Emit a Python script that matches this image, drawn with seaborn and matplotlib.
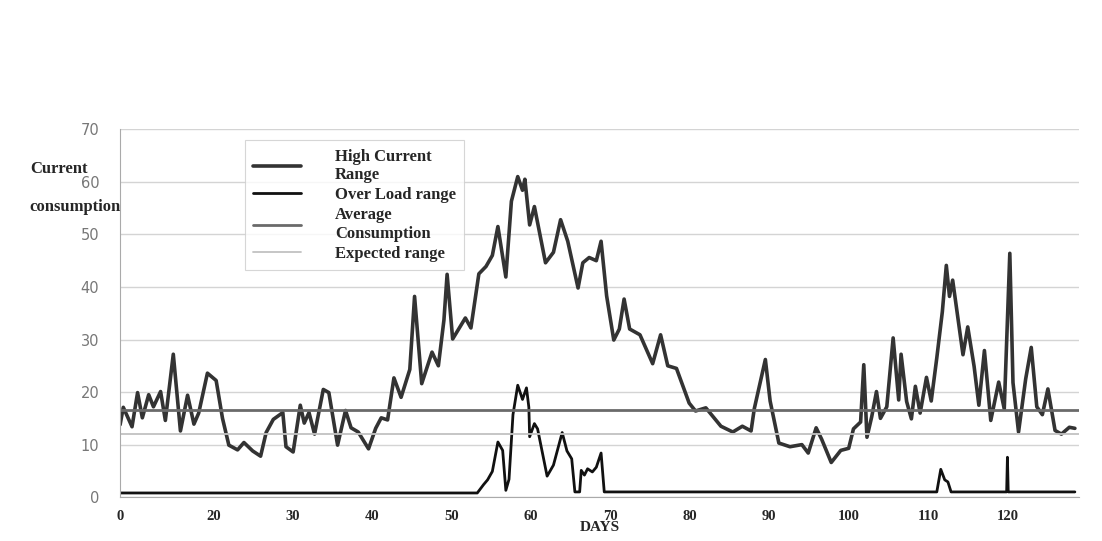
import pandas as pd
import seaborn as sns
import matplotlib.pyplot as plt

# values
days_main = [8.2, 8.6, 9.7, 10.4, 11.0, 11.8, 12.4, 13.3, 13.9, 14.9,
             15.8, 16.7, 17.5, 18.1, 19.2, 20.3, 21.1, 21.9, 23.0, 23.8,
             24.9, 25.9, 26.6, 27.5, 28.7, 29.1, 30.0, 30.9, 31.4, 32.0,
             32.7, 33.8, 34.5, 35.6, 36.6, 37.3, 38.2, 39.5, 40.4, 41.1,
             41.9, 42.7, 43.6, 44.7, 45.3, 46.2, 47.5, 48.3, 49.0, 49.4,
             50.1, 51.7, 52.4, 53.4, 54.3, 55.1, 55.8, 56.8, 57.5, 58.3,
             58.9, 59.2, 59.8, 60.4, 61.8, 62.8, 63.7, 64.6, 65.9, 66.5,
             67.3, 68.2, 68.8, 69.5, 70.4, 71.1, 71.7, 72.4, 73.7, 75.3,
             76.3, 77.2, 78.3, 79.9, 80.7, 82.0, 83.9, 85.4, 86.6, 87.7,
             88.1, 89.5, 90.1, 91.2, 92.6, 94.1, 94.9, 95.9, 96.6, 97.8,
             99.0, 100.0, 100.6, 101.5, 101.9, 102.3, 102.9, 103.5, 104.0, 104.8,
             105.6, 106.3, 106.6, 107.3, 107.9, 108.4, 109.0, 109.8, 110.4, 111.1,
             111.8, 112.3, 112.7, 113.1, 114.4, 115.0, 115.8, 116.4, 117.1, 117.9,
             118.9, 119.6, 120.3, 120.7, 121.4, 122.3, 123.0, 123.7, 124.4, 125.1,
             126.0, 126.8, 127.8, 128.5]
high_current = [13.8, 17.1, 13.4, 19.9, 15.1, 19.5, 17.2, 20.1, 14.6, 27.2,
                12.6, 19.4, 13.9, 16.0, 23.6, 22.2, 15.0, 9.9, 9.0, 10.4,
                8.8, 7.8, 12.3, 14.8, 16.1, 9.6, 8.6, 17.5, 14.1, 16.1,
                12.0, 20.5, 19.9, 9.9, 16.5, 13.2, 12.4, 9.2, 13.1, 15.1,
                14.7, 22.7, 19.0, 24.3, 38.2, 21.6, 27.6, 25.0, 33.7, 42.4,
                30.1, 34.1, 32.2, 42.5, 43.9, 46.0, 51.5, 41.9, 56.3, 61.0,
                58.4, 60.5, 51.8, 55.3, 44.6, 46.6, 52.8, 48.7, 39.8, 44.6,
                45.6, 45.0, 48.7, 38.3, 29.9, 32.0, 37.7, 32.0, 30.9, 25.4,
                30.9, 25.0, 24.5, 17.9, 16.4, 17.0, 13.5, 12.4, 13.5, 12.6,
                16.8, 26.2, 18.3, 10.3, 9.6, 10.0, 8.4, 13.2, 11.0, 6.6,
                8.9, 9.3, 13.0, 14.3, 25.2, 11.4, 15.3, 20.1, 15.0, 17.2,
                30.3, 18.5, 27.2, 18.2, 14.9, 21.1, 16.0, 22.8, 18.3, 26.5,
                35.3, 44.1, 38.2, 41.3, 27.1, 32.4, 24.9, 17.5, 27.9, 14.6,
                21.9, 16.8, 46.4, 21.8, 12.4, 22.5, 28.5, 17.2, 15.7, 20.6,
                12.7, 12.0, 13.3, 13.1]

days_over = [8.2, 53.2, 54.0, 54.5, 55.1, 55.8, 56.4, 56.8, 57.2, 57.7,
             58.3, 58.9, 59.4, 59.7, 59.8, 60.4, 60.8, 62.0, 62.8, 63.9,
             64.5, 65.1, 65.5, 66.1, 66.3, 66.7, 67.1, 67.7, 68.2, 68.8,
             69.2, 111.1, 111.6, 112.1, 112.5, 112.9, 119.9, 120.0, 120.1, 128.5]
over_load = [0.8, 0.8, 2.4, 3.3, 4.9, 10.5, 8.9, 1.3, 3.4, 15.7,
             21.3, 18.6, 20.8, 17.1, 11.5, 14.0, 13.0, 4.0, 6.1, 12.3,
             8.8, 7.3, 1.0, 1.0, 5.1, 4.2, 5.4, 4.8, 5.7, 8.4,
             1.0, 1.0, 5.3, 3.3, 2.9, 1.0, 1.0, 7.6, 1.0, 1.0]

ref_days = [8.2, 129]
avg_consumption = [16.5, 16.5]
expected_range = [12.0, 12.0]

tick_pos = [8.2, 20, 30, 40, 50, 60, 70, 80, 90, 100, 110, 120]
tick_labels = ['0', '20', '30', '40', '50', '60', '70', '80', '90', '100', '110', '120']

sns.set_style("white")
serif = 'Liberation Serif'

fig = plt.figure(figsize=(11.02, 5.41), dpi=100)
ax = fig.add_axes([0.109, 0.081, 0.87, 0.68])

ax.set_yticks(range(0, 71, 10))
ax.yaxis.grid(True, color='#d4d4d4', lw=1)
ax.set_axisbelow(True)

sns.lineplot(x=days_main, y=high_current, ax=ax, color='#333333', lw=2.6,
             sort=False, estimator=None, label='High Current\nRange')
sns.lineplot(x=days_over, y=over_load, ax=ax, color='#111111', lw=2.0,
             sort=False, estimator=None, label='Over Load range')
sns.lineplot(x=ref_days, y=avg_consumption, ax=ax, color='#6a6a6a', lw=2.0,
             label='Average\nConsumption')
sns.lineplot(x=ref_days, y=expected_range, ax=ax, color='#c2c2c2', lw=1.3,
             label='Expected range')

ax.set_xlim(8.2, 129)
ax.set_ylim(0, 70)
ax.set_xticks(tick_pos)
ax.set_xticklabels(tick_labels, fontfamily=serif, fontweight='bold', fontsize=10.5)
for t in ax.get_yticklabels():
    t.set_color('#777777')
    t.set_fontsize(10.5)
ax.tick_params(axis='y', length=3, color='#aaaaaa', pad=12)
ax.tick_params(axis='x', length=0, pad=9)

for s in ['top', 'right']:
    ax.spines[s].set_visible(False)
ax.spines['left'].set_color('#aaaaaa')
ax.spines['bottom'].set_color('#aaaaaa')

ax.set_xlabel('DAYS', fontfamily=serif, fontweight='bold', fontsize=11, labelpad=-1)
ax.set_ylabel('')
fig.text(0.027, 0.688, 'Current', fontfamily=serif, fontweight='bold',
         fontsize=12, va='center', ha='left')
fig.text(0.027, 0.617, 'consumption', fontfamily=serif, fontweight='bold',
         fontsize=12, va='center', ha='left')

leg = ax.legend(loc='upper left', bbox_to_anchor=(0.13, 0.97), frameon=True,
                fancybox=False, handlelength=2.9, handletextpad=2.0,
                borderpad=0.5, labelspacing=0.25, borderaxespad=0,
                prop={'family': serif, 'weight': 'bold', 'size': 12})
leg.get_frame().set_edgecolor('#cccccc')
leg.get_frame().set_linewidth(0.8)

fig.savefig('out.png', dpi=100)
